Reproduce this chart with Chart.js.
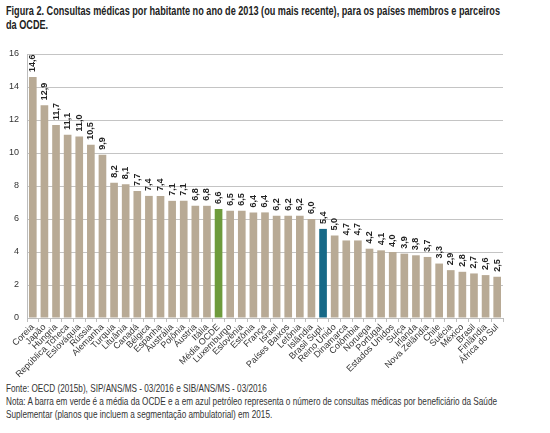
<!DOCTYPE html>
<html>
<head>
<meta charset="utf-8">
<script src="https://cdn.jsdelivr.net/npm/chart.js@4/dist/chart.umd.min.js"></script>
<style>
  body { margin: 0; background: #fff; width: 550px; height: 433px; position: relative; overflow: hidden; }
  .narrow { white-space: nowrap; transform-origin: 0 0; display: inline-block; }
  #title { position: absolute; left: 6px; top: 4px; font-family: "Liberation Sans", Arial, sans-serif; font-weight: bold; font-size: 13px; line-height: 14px; color: #222; }
  #box { position: absolute; left: 0; top: 40px; width: 550px; height: 340px; }
  #notes { position: absolute; left: 6px; top: 382px; font-family: "Liberation Sans", Arial, sans-serif; font-size: 10.5px; line-height: 13px; color: #333; }
</style>
</head>
<body>
<div id="title" class="narrow">Figura 2. Consultas médicas por habitante no ano de 2013 (ou mais recente), para os países membros e parceiros<br>da OCDE.</div>
<div id="box"><canvas id="myChart"></canvas></div>
<div id="notes" class="narrow">Fonte: OECD (2015b), SIP/ANS/MS - 03/2016 e SIB/ANS/MS - 03/2016<br>Nota: A barra em verde é a média da OCDE e a em azul petróleo representa o número de consultas médicas por beneficiário da Saúde<br>Suplementar (planos que incluem a segmentação ambulatorial) em 2015.</div>
<script>
// countries, in the order of the figure
const countries = ['Coreia', 'Japão', 'Hungria', 'República Tcheca', 'Eslováquia', 'Rússia', 'Alemanha', 'Turquia',
  'Lituânia', 'Canadá', 'Bélgica', 'Espanha', 'Austrália', 'Polônia', 'Áustria', 'Itália', 'Média OCDE',
  'Luxemburgo', 'Eslovênia', 'Estônia', 'França', 'Israel', 'Países Baixos', 'Letônia', 'Islândia',
  'Brasil Supl.', 'Reino Unido', 'Dinamarca', 'Colômbia', 'Noruega', 'Portugal', 'Estados Unidos', 'Suíça',
  'Irlanda', 'Nova Zelândia', 'Chile', 'Suécia', 'México', 'Brasil', 'Finlândia', 'África do Sul'];

// consultas por habitante
const consultas = [14.6, 12.9, 11.7, 11.1, 11.0, 10.5, 9.9, 8.2, 8.1, 7.7, 7.4, 7.4, 7.1, 7.1, 6.8, 6.8, 6.6,
  6.5, 6.5, 6.4, 6.4, 6.2, 6.2, 6.2, 6.0, 5.4, 5.0, 4.7, 4.7, 4.2, 4.1, 4.0, 3.9, 3.8, 3.7, 3.3, 2.9, 2.8,
  2.7, 2.6, 2.5];

const yTicks = [0, 2, 4, 6, 8, 10, 12, 14, 16];

// highlighted bars
const mediaLabel = 'Média OCDE';
const suplLabel = 'Brasil Supl.';

const colors = countries.map(function (c) {
  if (c === mediaLabel) return '#6e9b3c';
  if (c === suplLabel) return '#176987';
  return '#b8aa95';
});

// squeeze the text blocks to look like the condensed font of the original
function squeeze(id, width) {
  const el = document.getElementById(id);
  const w = el.getBoundingClientRect().width;
  el.style.transform = 'scaleX(' + (width / w) + ')';
}
squeeze('title', 494);
squeeze('notes', 491);

// draw value labels, rotated, above each bar
const valueLabels = {
  id: 'valueLabels',
  afterDatasetsDraw(chart) {
    const ctx = chart.ctx;
    const meta = chart.getDatasetMeta(0);
    ctx.save();
    ctx.font = 'bold 9px "Liberation Sans", Arial, sans-serif';
    ctx.fillStyle = '#222';
    ctx.textAlign = 'left';
    ctx.textBaseline = 'middle';
    meta.data.forEach(function (bar, i) {
      ctx.save();
      ctx.translate(bar.x, bar.y - 5);
      ctx.rotate(-Math.PI / 2);
      ctx.fillText(consultas[i].toFixed(1).replace('.', ','), 0, 0);
      ctx.restore();
    });
    ctx.restore();
  }
};

const config = {
  type: 'bar',
  data: {
    labels: countries,
    datasets: [{
      data: consultas,
      backgroundColor: colors,
      barPercentage: 0.66,
      categoryPercentage: 1
    }]
  },
  options: {
    responsive: true,
    maintainAspectRatio: false,
    animation: false,
    layout: { padding: { top: 14, right: 47, bottom: 2, left: 0 } },
    plugins: {
      legend: { display: false },
      tooltip: { enabled: false }
    },
    scales: {
      x: {
        grid: { display: true, drawOnChartArea: false, offset: true, tickLength: 4, color: '#bdbdbd' },
        border: { color: '#bdbdbd' },
        ticks: {
          autoSkip: false, maxRotation: 45, minRotation: 45, padding: 0,
          color: '#333', font: { family: '"Liberation Sans", Arial, sans-serif', size: 9 }
        },
        afterFit: function (scale) { scale.height = 60; }
      },
      y: {
        min: 0, max: 16,
        afterBuildTicks: function (scale) { scale.ticks = yTicks.map(v => ({ value: v })); },
        grid: { color: '#c4c4c4', drawTicks: false },
        border: { color: '#bdbdbd' },
        ticks: {
          padding: 8, color: '#333',
          font: { family: '"Liberation Sans", Arial, sans-serif', size: 9 }
        },
        afterFit: function (scale) { scale.width = 27; }
      }
    }
  },
  plugins: [valueLabels]
};

const myChart = new Chart(document.getElementById('myChart'), config);
</script>
</body>
</html>
